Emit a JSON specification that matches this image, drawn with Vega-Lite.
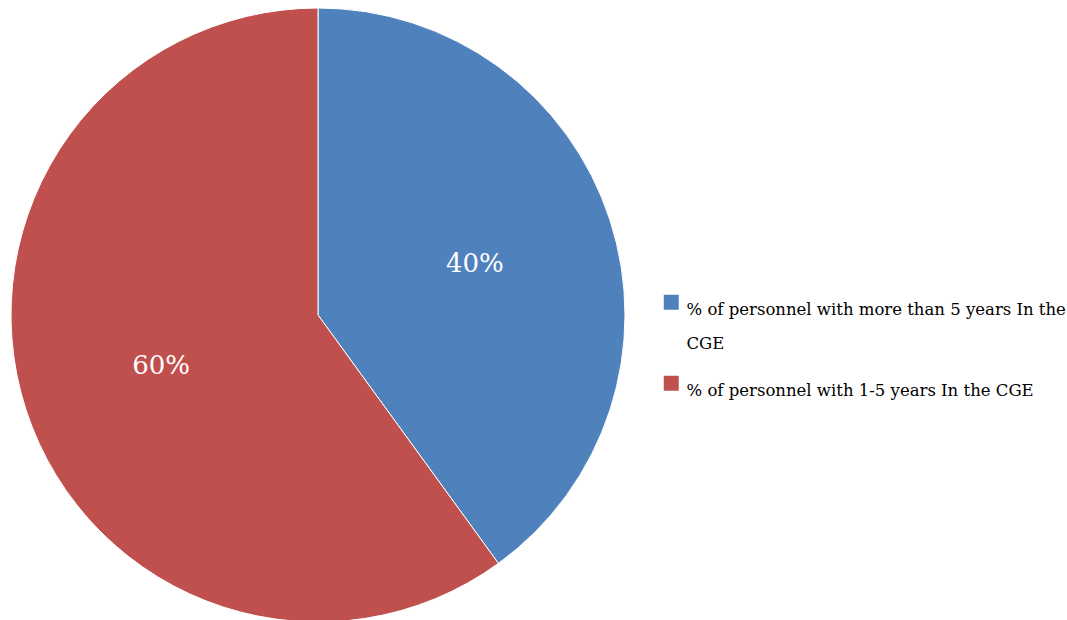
{
  "$schema": "https://vega.github.io/schema/vega-lite/v6.json",
  "width": 636,
  "height": 630,
  "padding": {"left": 0, "top": 0, "right": 431, "bottom": 0},
  "autosize": {"type": "none"},
  "background": "white",
  "config": {"view": {"stroke": null}, "style": {"guide-label": {"lineHeight": 34}}},
  "data": {
    "values": [
      {"category": "% of personnel with more than 5 years In the CGE", "value": 0.4, "order": 1},
      {"category": "% of personnel with 1-5 years In the CGE", "value": 0.6, "order": 2}
    ]
  },
  "encoding": {
    "theta": {"field": "value", "type": "quantitative", "stack": true},
    "order": {"field": "order", "type": "quantitative"},
    "color": {
      "field": "category",
      "type": "nominal",
      "sort": ["% of personnel with more than 5 years In the CGE", "% of personnel with 1-5 years In the CGE"],
      "scale": {
        "domain": ["% of personnel with more than 5 years In the CGE", "% of personnel with 1-5 years In the CGE"],
        "range": ["#4F81BD", "#C0504D"]
      },
      "legend": {
        "title": null,
        "orient": "none",
        "legendX": 663,
        "legendY": 294,
        "symbolType": "square",
        "symbolSize": 225,
        "symbolStrokeWidth": 0,
        "labelFont": "DejaVu Serif",
        "labelFontSize": 16.5,
        "labelColor": "#000000",
        "labelLimit": 500,
        "labelOffset": 7,
        "labelBaseline": "top",
        "rowPadding": 22,
        "labelExpr": "datum.label == '% of personnel with more than 5 years In the CGE' ? ['% of personnel with more than 5 years In the', 'CGE'] : datum.label"
      }
    }
  },
  "layer": [
    {
      "mark": {"type": "arc", "outerRadius": 307, "stroke": "white", "strokeWidth": 1}
    },
    {
      "mark": {"type": "text", "radius": 165, "fontSize": 26, "font": "DejaVu Serif", "color": "white"},
      "encoding": {
        "text": {"field": "value", "type": "quantitative", "format": ".0%"},
        "color": {"value": "white"}
      }
    }
  ]
}
